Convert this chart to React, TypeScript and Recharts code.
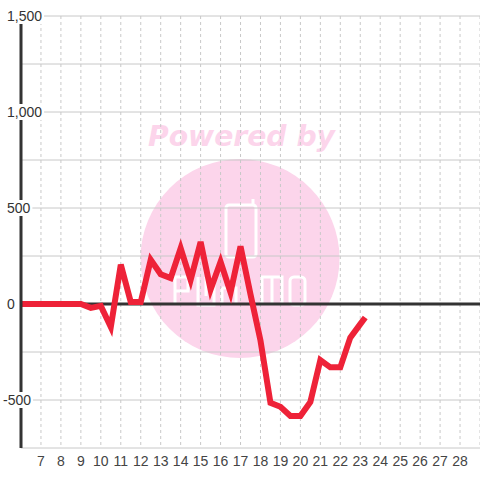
import React from "react";
import { LineChart, Line, XAxis, YAxis, CartesianGrid, ReferenceLine } from "recharts";

const days = [6, 6.5, 7, 7.5, 8, 8.5, 9, 9.5, 10, 10.5, 11, 11.5, 12, 12.5, 13, 13.5, 14, 14.5, 15, 15.5, 16, 16.5, 17, 17.5, 18, 18.5, 19, 19.5, 20, 20.5, 21, 21.5, 22, 22.5, 23, 23.25];
const values = [0, 0, 0, 0, 0, 0, 0, -20, -10, -120, 205, 10, 10, 230, 155, 135, 290, 125, 323, 75, 220, 60, 300, 50, -190, -515, -535, -583, -583, -510, -292, -330, -330, -175, -105, -70];
const xTicks = [7, 8, 9, 10, 11, 12, 13, 14, 15, 16, 17, 18, 19, 20, 21, 22, 23, 24, 25, 26, 27, 28];
const yTicks = [-750, -500, -250, 0, 250, 500, 750, 1000, 1250, 1500];
const yLabelValues = [-500, 0, 500, 1000, 1500];

const data = days.map((d, i) => ({ day: d, v: values[i] }));

const FONT = "'Liberation Sans', Arial, sans-serif";

function fmt(v: number): string {
  const s = Math.abs(v).toString().replace(/\B(?=(\d{3})+(?!\d))/g, ",");
  return v < 0 ? "-" + s : s;
}

function textWidth(s: string): number {
  let w = 0;
  for (const c of s) {
    if (c === ",") w += 3.9;
    else if (c === "-") w += 4.7;
    else w += 7.8;
  }
  return w;
}

const YTick = (props: any) => {
  const { y, payload } = props;
  const v = payload.value as number;
  if (!yLabelValues.includes(v)) return <g />;
  const label = fmt(v);
  const tx = v < 0 ? 3 : 7;
  const w = textWidth(label);
  return (
    <g>
      <rect x={0} y={y - 8} width={tx + w + 2} height={16} fill="#ffffff" />
      <text x={tx} y={y + 5} textAnchor="start" fontSize={14} fontFamily={FONT} fill="#333">
        {label}
      </text>
    </g>
  );
};

const XTick = (props: any) => {
  const { x, payload } = props;
  return (
    <text x={x} y={466} textAnchor="middle" fontSize={14} fontFamily={FONT} fill="#444">
      {payload.value}
    </text>
  );
};

const Watermark = () => (
  <svg width={480} height={480} style={{ position: "absolute", left: 0, top: 0 }}>
    <rect x={0} y={0} width={480} height={480} fill="#ffffff" />
    <text
      x={241.5}
      y={146}
      textAnchor="middle"
      fontSize={28}
      fontFamily="'DejaVu Sans', sans-serif"
      fontWeight="bold"
      fontStyle="italic"
      fill="#fcd5eb"
      textLength={187}
      lengthAdjust="spacingAndGlyphs"
    >
      Powered by
    </text>
    <circle cx={240} cy={258.5} r={99.5} fill="#fcd5eb" />
    <g fill="none" stroke="#ffffff" strokeWidth={3}>
      <rect x={226} y={205} width={30} height={52} rx={3} />
      <line x1={253} y1={199} x2={253} y2={206} />
      <path d="M175 305 V277 H188 V291 H175" />
      <path d="M198 277 V305 H214 V277 M206 277 V296" />
      <path d="M222 288 V305 M222 288 H236 V305" />
      <path d="M262 305 V277 H282 V305 M272 277 V305" />
      <rect x={290} y={277} width={15} height={28} rx={4} />
    </g>
  </svg>
);

export default function App() {
  return (
    <div style={{ position: "absolute", left: 0, top: 0, width: 480, height: 480, background: "#ffffff" }}>
      <Watermark />
      <div style={{ position: "absolute", left: 0, top: 0 }}>
        <LineChart width={480} height={480} data={data} margin={{ top: 16, right: 0, bottom: 0, left: 0 }}>
          <CartesianGrid horizontal={true} vertical={false} stroke="#c8c8c8" strokeWidth={1} />
          <CartesianGrid horizontal={false} vertical={true} stroke="#c8c8c8" strokeWidth={1} strokeDasharray="3 3" />
          <XAxis
            dataKey="day"
            type="number"
            domain={[6, 29]}
            ticks={xTicks}
            interval={0}
            axisLine={false}
            tickLine={false}
            height={32}
            tick={<XTick />}
          />
          <YAxis
            type="number"
            domain={[-750, 1500]}
            ticks={yTicks}
            interval={0}
            width={21}
            axisLine={{ stroke: "#333", strokeWidth: 3 }}
            tickLine={false}
            tick={<YTick />}
          />
          <ReferenceLine y={0} stroke="#333" strokeWidth={3} />
          <Line
            type="linear"
            dataKey="v"
            stroke="#ee2238"
            strokeWidth={6}
            dot={false}
            isAnimationActive={false}
          />
        </LineChart>
      </div>
    </div>
  );
}
